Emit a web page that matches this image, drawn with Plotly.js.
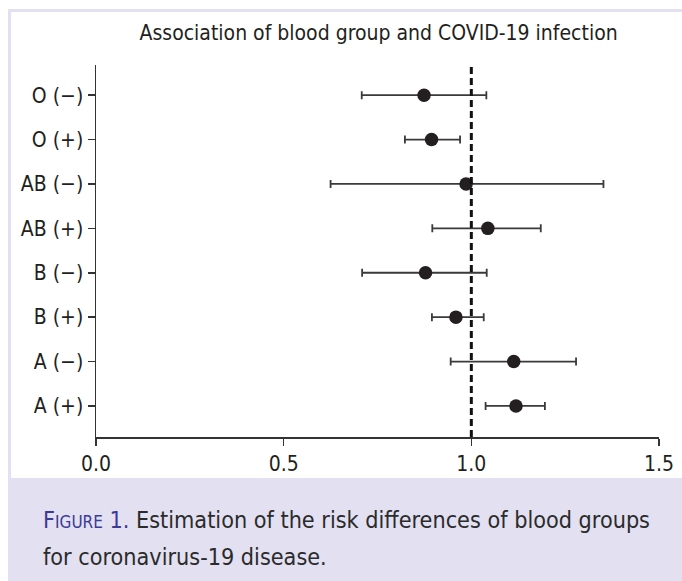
<!DOCTYPE html>
<html>
<head>
<meta charset="utf-8">
<script src="https://cdn.plot.ly/plotly-3.0.1.min.js"></script>
<style>
  html, body { margin: 0; padding: 0; background: #ffffff; }
  #chart { width: 682px; height: 581px; }
</style>
</head>
<body>
<div id="chart"></div>
<script>
// Categories (bottom to top)
const groups = ["A (+)", "A (−)", "B (+)", "B (−)", "AB (+)", "AB (−)", "O (+)", "O (−)"];
// Point estimates
const estimate = [1.119, 1.113, 0.959, 0.878, 1.044, 0.986, 0.894, 0.874];
// Lower confidence limits
const lower = [1.038, 0.945, 0.895, 0.709, 0.896, 0.625, 0.823, 0.708];
// Upper confidence limits
const upper = [1.196, 1.279, 1.033, 1.041, 1.185, 1.352, 0.970, 1.040];
const xTicks = [0, 0.5, 1.0, 1.5];
const xTickText = ["0.0", "0.5", "1.0", "1.5"];
const referenceValue = 1.0;

const plus = upper.map((u, i) => u - estimate[i]);
const minus = lower.map((l, i) => estimate[i] - l);

const FONT = "DejaVu Sans Condensed, DejaVu Sans, sans-serif";

const trace = {
  type: "scatter",
  mode: "markers",
  x: estimate,
  y: groups,
  marker: { color: "#231f20", size: 13.5 },
  error_x: {
    type: "data",
    symmetric: false,
    array: plus,
    arrayminus: minus,
    color: "#3a3a3a",
    thickness: 1.8,
    width: 4
  },
  hoverinfo: "x+y",
  showlegend: false
};

const layout = {
  width: 682,
  height: 581,
  margin: { l: 96, r: 23, t: 65, b: 144 },
  paper_bgcolor: "#ffffff",
  plot_bgcolor: "#ffffff",
  font: { family: FONT, color: "#231f20" },
  title: {
    text: "Association of blood group and COVID-19 infection",
    font: { family: FONT, size: 21, color: "#231f20" },
    x: 0.502, xanchor: "center", xref: "paper",
    y: 1 - 33/581, yref: "container", yanchor: "middle"
  },
  xaxis: {
    range: [0, 1.5],
    tickvals: xTicks,
    ticktext: xTickText,
    ticks: "outside",
    ticklen: 7,
    tickwidth: 1.5,
    tickcolor: "#333",
    showline: true,
    linecolor: "#333",
    linewidth: 1.5,
    showgrid: false,
    zeroline: false,
    tickfont: { size: 21, family: FONT, color: "#231f20" },
    fixedrange: true
  },
  yaxis: {
    type: "category",
    categoryorder: "array",
    categoryarray: groups,
    range: [-0.7, 7.68],
    ticks: "outside",
    ticklen: 7,
    tickwidth: 1.5,
    tickcolor: "#333",
    showline: true,
    linecolor: "#333",
    linewidth: 1.5,
    showgrid: false,
    zeroline: false,
    tickfont: { size: 21, family: FONT, color: "#231f20" },
    fixedrange: true
  },
  shapes: [
    // lavender frame + caption background
    { type: "rect", xref: "paper", yref: "paper", layer: "below",
      x0: -88/563, x1: 23/563 + 1, y0: -144/372, y1: 1 + 56/372,
      fillcolor: "#e2e0f1", line: { width: 0 } },
    // white chart panel
    { type: "rect", xref: "paper", yref: "paper", layer: "below",
      x0: -85/563, x1: 23/563 + 1, y0: -41/372, y1: 1 + 53/372,
      fillcolor: "#ffffff", line: { width: 0 } },
    // reference line at 1.0
    { type: "line", xref: "x", yref: "paper",
      x0: referenceValue, x1: referenceValue, y0: 0, y1: 1,
      line: { color: "#111", width: 3, dash: "7px,4px" } }
  ],
  annotations: [
    { xref: "paper", yref: "paper", xanchor: "left", yanchor: "middle",
      x: -55/563, y: -(519-437)/372, showarrow: false, align: "left",
      text: "<span style='color:#3d3a96'>F<span style='font-size:17px'>IGURE</span> 1.</span> Estimation of the risk differences of blood groups",
      font: { family: FONT, size: 23.2, color: "#2b2b2b" } },
    { xref: "paper", yref: "paper", xanchor: "left", yanchor: "middle",
      x: -55/563, y: -(556-437)/372, showarrow: false, align: "left",
      text: "for coronavirus-19 disease.",
      font: { family: FONT, size: 23.2, color: "#2b2b2b" } }
  ]
};

Plotly.newPlot("chart", [trace], layout, { displayModeBar: false, staticPlot: true });
</script>
</body>
</html>
